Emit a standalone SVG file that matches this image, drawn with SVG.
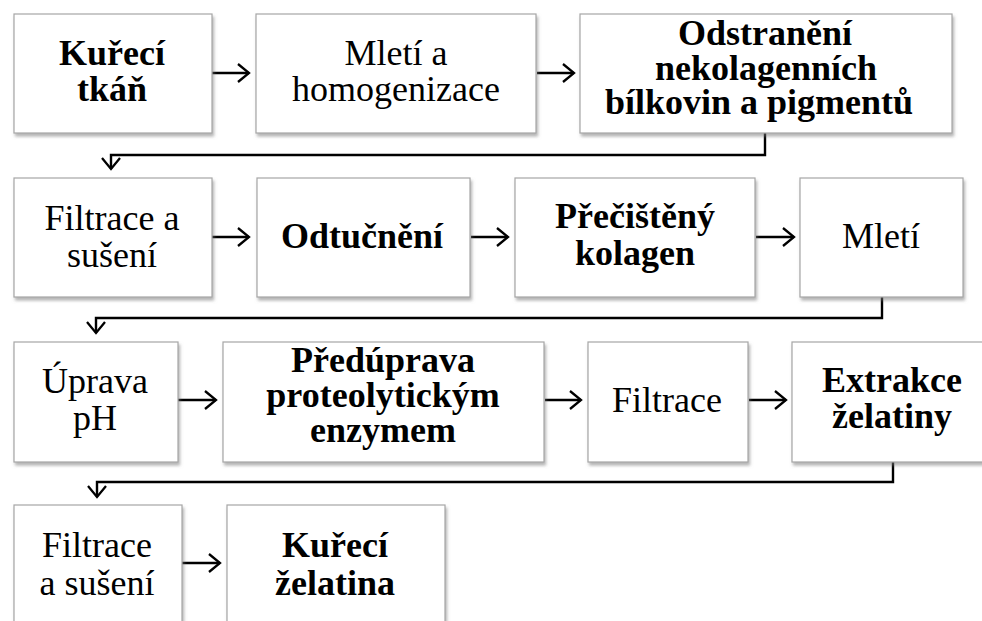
<svg xmlns="http://www.w3.org/2000/svg" width="982" height="621" viewBox="0 0 982 621">
<defs>
<filter id="sh" x="-10%" y="-10%" width="130%" height="140%">
<feDropShadow dx="1.5" dy="3" stdDeviation="1.8" flood-color="#777" flood-opacity="0.55"/>
</filter>
<marker id="ah" markerUnits="userSpaceOnUse" markerWidth="24" markerHeight="24" viewBox="-14 -12 16 24" refX="0" refY="0" orient="auto">
<path d="M-11,-9 L0,0 L-11,9" fill="none" stroke="#000" stroke-width="2.3"/>
</marker>
</defs>
<style>
.box{fill:#fff;stroke:#a6a6a6;stroke-width:1.2;filter:url(#sh)}
.t{font-family:"Liberation Serif","Times New Roman",serif;font-size:36px;fill:#000;text-anchor:middle}
.b{font-weight:bold}
.c{fill:none;stroke:#000;stroke-width:2.4;marker-end:url(#ah)}
</style>
<rect width="982" height="621" fill="#fff"/>
<g id="connectors">
<path class="c" d="M212,73 H249"/>
<path class="c" d="M537,73 H574"/>
<path class="c" d="M765,133 V155 H111 V169"/>
<path class="c" d="M212,237 H249"/>
<path class="c" d="M471,237 H508"/>
<path class="c" d="M756,237 H794"/>
<path class="c" d="M882,297 V318 H96 V333"/>
<path class="c" d="M178,400 H216"/>
<path class="c" d="M545,400 H581"/>
<path class="c" d="M749,400 H786"/>
<path class="c" d="M893,462 V482 H97 V497"/>
<path class="c" d="M182,563 H220"/>
</g>
<g id="n1"><rect class="box" x="14" y="14" width="198" height="119"/>
<text class="t b" x="112" y="65">Kuřecí</text><text class="t b" x="112" y="101">tkáň</text></g>
<g id="n2"><rect class="box" x="256" y="14" width="280" height="119"/>
<text class="t" x="396" y="65">Mletí a</text><text class="t" x="396" y="101">homogenizace</text></g>
<g id="n3"><rect class="box" x="580" y="14" width="372" height="119"/>
<text class="t b" x="765" y="45">Odstranění</text><text class="t b" x="766" y="80">nekolagenních</text><text class="t b" x="759" y="114">bílkovin a pigmentů</text></g>
<g id="n4"><rect class="box" x="14" y="178" width="198" height="119"/>
<text class="t" x="112" y="230">Filtrace a</text><text class="t" x="112" y="267">sušení</text></g>
<g id="n5"><rect class="box" x="257" y="178" width="213" height="119"/>
<text class="t b" x="362" y="248">Odtučnění</text></g>
<g id="n6"><rect class="box" x="515" y="178" width="240" height="119"/>
<text class="t b" x="635" y="228">Přečištěný</text><text class="t b" x="635" y="265">kolagen</text></g>
<g id="n7"><rect class="box" x="800" y="178" width="163" height="119"/>
<text class="t" x="881" y="248">Mletí</text></g>
<g id="n8"><rect class="box" x="14" y="342" width="164" height="120"/>
<text class="t" x="95" y="393">Úprava</text><text class="t" x="95" y="430">pH</text></g>
<g id="n9"><rect class="box" x="223" y="342" width="321" height="120"/>
<text class="t b" x="383" y="372">Předúprava</text><text class="t b" x="383" y="407">proteolytickým</text><text class="t b" x="383" y="442">enzymem</text></g>
<g id="n10"><rect class="box" x="588" y="342" width="160" height="120"/>
<text class="t" x="667" y="412">Filtrace</text></g>
<g id="n11"><rect class="box" x="792" y="342" width="200" height="120"/>
<text class="t b" x="892" y="392">Extrakce</text><text class="t b" x="892" y="428">želatiny</text></g>
<g id="n12"><rect class="box" x="14" y="505" width="168" height="125"/>
<text class="t" x="97" y="557">Filtrace</text><text class="t" x="97" y="595">a sušení</text></g>
<g id="n13"><rect class="box" x="227" y="505" width="218" height="125"/>
<text class="t b" x="335" y="557">Kuřecí</text><text class="t b" x="335" y="595">želatina</text></g>
</svg>
